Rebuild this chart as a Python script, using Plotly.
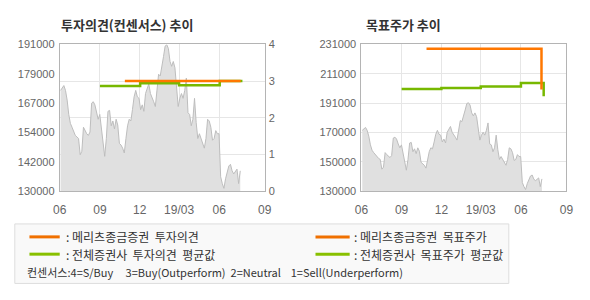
import pandas as pd
import plotly.graph_objects as go

# ---------------- data ----------------
price = [171900, 173200, 173900, 171900, 167900, 161900, 158200, 156600, 155200, 153200,
         152600, 151900, 145200, 146600, 156600, 155200, 153900, 153200, 154600, 166600,
         167200, 165900, 162600, 159900, 161900, 156600, 150600, 144500, 151900, 163200,
         163600, 157200, 159200, 155900, 159900, 157500, 149900, 149200, 147900, 145900,
         151900, 157200, 159900, 159200, 163900, 169200, 171900, 169200, 168600, 163900,
         165900, 163200, 170600, 173200, 174600, 170600, 169200, 167200, 165200, 173900,
         178600, 177900, 181300, 185900, 190300, 190900, 189300, 183900, 181900, 183900,
         181300, 173900, 165200, 168600, 170600, 168600, 171900, 177000, 162600, 161900,
         157200, 159900, 168600, 158600, 151900, 153900, 151900, 149200, 147900, 151900,
         159900, 159200, 156600, 151200, 151900, 155200, 153900, 153900, 136000, 133200,
         131200, 135200, 138500, 140500, 141200, 138500, 137200, 138500, 139200, 133200,
         138500]
price_start, price_end = "2018-06-03", "2019-07-19"

meritz_op_dates = ["2018-10-28", "2019-07-20"]
meritz_op = [3.0, 3.0]
avg_op_dates = ["2018-09-01", "2018-12-02", "2019-03-01", "2019-06-02", "2019-07-24"]
avg_op = [2.87, 2.94, 2.89, 3.0, 3.0]

meritz_tp_dates = ["2018-10-28", "2019-07-18"]
meritz_tp = [228000, 200000]
avg_tp_dates = ["2018-09-01", "2018-12-01", "2019-03-01", "2019-06-01", "2019-07-23"]
avg_tp = [200300, 201100, 202000, 204400, 195400]

x_tickvals = ["2018-06-01", "2018-09-01", "2018-12-01", "2019-03-01", "2019-06-01", "2019-09-13"]
x_ticktext = ["06", "09", "12", "19/03", "06", "09"]
x_range = ["2018-06-01", "2019-09-13"]

left_price_ticks = ["130000", "142000", "154000", "167000", "179000", "191000"]
left_price_range = [130000, 191000]
op_ticks = ["0", "1", "2", "3", "4"]
right_price_ticks = ["130000", "150000", "170000", "191000", "211000", "231000"]
right_price_range = [130000, 231000]

legend_items = [": 메리츠종금증권  투자의견", ": 전체증권사  투자의견  평균값",
                ": 메리츠종금증권  목표주가", ": 전체증권사  목표주가  평균값"]
consensus_note = "컨센서스:4=S/Buy     3=Buy(Outperform)  2=Neutral    1=Sell(Underperform)"

# ---------------- style ----------------
ORANGE = "#ff7700"
GREEN = "#77b800"
LEG_ORANGE = "#f07000"
LEG_GREEN = "#88c000"
AREA_FILL = "#e0e0e0"
AREA_LINE = "#bdbdbd"
GRID = "#e6e6e6"
FRAME = "#b4b4b4"
TICKC = "#666666"
FONT = "Liberation Sans, Arial, sans-serif"
KFONT = "Noto Sans CJK KR, sans-serif"

dates = pd.date_range(price_start, price_end, periods=len(price))

fig = go.Figure()

# left chart: price area
fig.add_trace(go.Scatter(x=dates, y=price, xaxis="x", yaxis="y", mode="lines",
                         fill="tozeroy", fillcolor=AREA_FILL,
                         line=dict(color=AREA_LINE, width=1), hoverinfo="skip"))
fig.add_trace(go.Scatter(x=avg_op_dates, y=avg_op, xaxis="x", yaxis="y2", mode="lines",
                         line=dict(color=GREEN, width=2.5, shape="hv")))
fig.add_trace(go.Scatter(x=meritz_op_dates, y=meritz_op, xaxis="x", yaxis="y2", mode="lines",
                         line=dict(color=ORANGE, width=2.5, shape="hv")))

# right chart
fig.add_trace(go.Scatter(x=dates, y=price, xaxis="x2", yaxis="y3", mode="lines",
                         fill="tozeroy", fillcolor=AREA_FILL,
                         line=dict(color=AREA_LINE, width=1), hoverinfo="skip"))
fig.add_trace(go.Scatter(x=avg_tp_dates, y=avg_tp, xaxis="x2", yaxis="y3", mode="lines",
                         line=dict(color=GREEN, width=2.5, shape="hv")))
fig.add_trace(go.Scatter(x=meritz_tp_dates, y=meritz_tp, xaxis="x2", yaxis="y3", mode="lines",
                         line=dict(color=ORANGE, width=2.5, shape="hv")))

W, H = 590, 300
def px(v):
    return v / W
def py(v):
    return 1 - v / H

def even_ticks(rng, n):
    step = (rng[1] - rng[0]) / (n - 1)
    return [rng[0] + i * step for i in range(n)]

TF = dict(family=FONT, size=11, color=TICKC)
xaxis_common = dict(type="date", range=x_range, tickvals=x_tickvals, ticktext=x_ticktext,
                    showgrid=True, gridcolor=GRID, gridwidth=1, showline=True, linecolor=FRAME,
                    linewidth=1, mirror=True, ticks="", zeroline=False, ticklabelstandoff=7,
                    tickfont=dict(family=FONT, size=12, color=TICKC))

fig.update_layout(
    width=W, height=H, margin=dict(l=0, r=0, t=0, b=0),
    paper_bgcolor="white", plot_bgcolor="white", showlegend=False,
    xaxis=dict(domain=[px(54), px(264)], anchor="y", **xaxis_common),
    xaxis2=dict(domain=[px(363), px(573)], anchor="y3", **xaxis_common),
    yaxis=dict(domain=[py(193), py(40)], range=left_price_range,
               tickvals=even_ticks(left_price_range, len(left_price_ticks)),
               ticktext=left_price_ticks, showgrid=False, showline=True, linecolor=FRAME,
               mirror=True, ticks="", zeroline=False, ticklabelstandoff=2, tickfont=TF),
    yaxis2=dict(overlaying="y", side="right", anchor="x", range=[0, 4],
                tickvals=[0, 1, 2, 3, 4], ticktext=op_ticks, showgrid=True, gridcolor=GRID,
                showline=False, ticks="", zeroline=False, ticklabelstandoff=3, tickfont=TF),
    yaxis3=dict(domain=[py(193), py(40)], anchor="x2", range=right_price_range,
                tickvals=even_ticks(right_price_range, len(right_price_ticks)),
                ticktext=right_price_ticks, showgrid=True, gridcolor=GRID, showline=True,
                linecolor=FRAME, mirror=True, ticks="", zeroline=False, ticklabelstandoff=2,
                tickfont=TF),
)

# titles
fig.add_annotation(x=px(53), y=py(19), xref="paper", yref="paper", xanchor="left",
                   yanchor="middle", showarrow=False, text="<b>투자의견(컨센서스) 추이</b>",
                   font=dict(family=KFONT, size=13, color="#333333"))
fig.add_annotation(x=px(366), y=py(19), xref="paper", yref="paper", xanchor="left",
                   yanchor="middle", showarrow=False, text="<b>목표주가 추이</b>",
                   font=dict(family=KFONT, size=13, color="#333333"))

# legend box
fig.add_shape(type="rect", xref="paper", yref="paper", x0=px(8), x1=px(514),
              y0=py(289), y1=py(227), fillcolor="#f9f9f9", line=dict(color="#dddddd", width=1))
leg_rows = [(240.5, LEG_ORANGE), (258.5, LEG_GREEN)]
for col, (lx0, lx1, tx) in enumerate([(23, 54, 58), (316, 351, 353)]):
    for row, (yy, colr) in enumerate(leg_rows):
        fig.add_shape(type="line", xref="paper", yref="paper", x0=px(lx0), x1=px(lx1),
                      y0=py(yy), y1=py(yy), line=dict(color=colr, width=3))
        fig.add_annotation(x=px(tx), y=py(yy), xref="paper", yref="paper", xanchor="left",
                           yanchor="middle", showarrow=False, text=legend_items[col * 2 + row],
                           font=dict(family=KFONT, size=12, color="#333333"))
fig.add_annotation(x=px(18), y=py(277), xref="paper", yref="paper", xanchor="left",
                   yanchor="middle", showarrow=False, text=consensus_note,
                   font=dict(family=KFONT, size=11, color="#333333"))

fig.write_html("out.html")
